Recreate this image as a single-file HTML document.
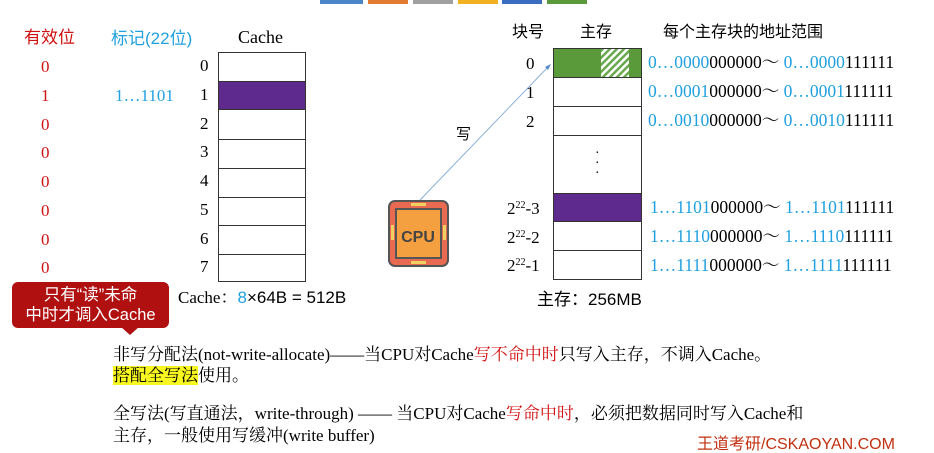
<!DOCTYPE html><html><head><meta charset="utf-8"><style>
body{margin:0;width:934px;height:451px;background:#fff;position:relative;overflow:hidden;font-family:"Liberation Serif","Noto Serif CJK SC",serif;}
.a{position:absolute;white-space:nowrap;line-height:1}
.r{color:#d01010}.b{color:#20a0e0}
.s{font-family:"Liberation Sans","Noto Sans CJK SC",sans-serif}
.row{position:absolute;left:0;width:100%;border-top:1px solid #333;box-sizing:border-box}
sup{font-size:10px;position:relative;top:-6px;vertical-align:baseline;line-height:0}
</style></head><body>
<div class="a" style="left:320px;top:0;width:43px;height:4px;background:#4a86c8"></div>
<div class="a" style="left:368px;top:0;width:40px;height:4px;background:#e07b30"></div>
<div class="a" style="left:413px;top:0;width:40px;height:4px;background:#a0a0a0"></div>
<div class="a" style="left:458px;top:0;width:40px;height:4px;background:#f0b020"></div>
<div class="a" style="left:502px;top:0;width:40px;height:4px;background:#3a6cc0"></div>
<div class="a" style="left:547px;top:0;width:40px;height:4px;background:#5a9a3a"></div>

<div class="a r s" style="left:24px;top:29px;font-size:17px">有效位</div>
<div class="a b s" style="left:111px;top:30px;font-size:17px">标记(22位)</div>
<div class="a" style="left:238px;top:28px;font-size:18px">Cache</div>
<div class="a r" style="left:41px;top:53px;font-size:17px;line-height:28.75px">0<br>1<br>0<br>0<br>0<br>0<br>0<br>0</div>
<div class="a b" style="left:115px;top:87px;font-size:17px">1…1101</div>
<div class="a" style="left:200px;top:52px;font-size:17px;line-height:28.75px">0<br>1<br>2<br>3<br>4<br>5<br>6<br>7</div>
<div class="a" style="left:218px;top:52px;width:88px;height:230px;border:1px solid #333;box-sizing:border-box">
<div class="row" style="top:28px;height:29px;background:#5e2a8e;border-bottom:1px solid #333"></div>
<div class="row" style="top:86px"></div><div class="row" style="top:115px"></div><div class="row" style="top:144px"></div><div class="row" style="top:172px"></div><div class="row" style="top:201px"></div>
</div>

<div class="a" style="left:12px;top:282px;width:157px;height:46px;background:#b01010;border-radius:6px;color:#fff;font-size:16.5px;text-align:center;line-height:20px;padding-top:3px;box-sizing:border-box;font-family:'Liberation Sans','Noto Sans CJK SC',sans-serif">只有“读”未命<br>中时才调入Cache</div>
<div class="a" style="left:120px;top:326px;width:0;height:0;border-left:10px solid transparent;border-right:10px solid transparent;border-top:9px solid #b01010"></div>
<div class="a" style="left:178px;top:289px;font-size:17px">Cache：<span class="b s">8</span><span class="s">×64B = 512B</span></div>

<svg class="a" style="left:0;top:0" width="934" height="451"><line x1="420" y1="200" x2="549" y2="66" stroke="#8ab0d8" stroke-width="1"/>
<path d="M551,64 L545,67 L548,70 Z" fill="#5a8ac8"/>
<defs><pattern id="h" width="5" height="5" patternUnits="userSpaceOnUse" patternTransform="rotate(45)"><rect width="5" height="5" fill="#fff"/><rect width="2.5" height="5" fill="#6aa84f"/></pattern></defs>
<rect x="389" y="201" width="59" height="65" rx="6" fill="#e86a50" stroke="#555" stroke-width="2"/>
<rect x="396" y="209" width="45" height="49" fill="#f5a040" stroke="#555" stroke-width="2"/>
<rect x="411" y="203" width="15" height="3" fill="#f0d060"/><rect x="411" y="261" width="15" height="3" fill="#f0d060"/>
<rect x="391" y="225" width="3" height="15" fill="#f0d060"/><rect x="443" y="225" width="3" height="15" fill="#f0d060"/>
<text x="418" y="242" font-family="Liberation Sans,sans-serif" font-weight="bold" font-size="16" fill="#444" text-anchor="middle">CPU</text>
</svg>
<div class="a s" style="left:456px;top:127px;font-size:15px">写</div>

<div class="a s" style="left:512px;top:25px;font-size:16px">块号</div>
<div class="a s" style="left:580px;top:25px;font-size:16px">主存</div>
<div class="a s" style="left:663px;top:25px;font-size:16px">每个主存块的地址范围</div>
<div class="a" style="left:553px;top:48px;width:89px;height:232px;border:1px solid #333;box-sizing:border-box">
<div class="row" style="top:0;height:29px;background:#5a9a3a;border-top:none;border-bottom:1px solid #333"></div>
<svg class="a" style="left:47px;top:0" width="28" height="28"><rect width="28" height="28" fill="url(#h)"/></svg>
<div class="row" style="top:57px"></div><div class="row" style="top:86px"></div>
<div class="row" style="top:144px;height:29px;background:#5e2a8e;border-bottom:1px solid #333"></div>
<div class="row" style="top:201px"></div>
<div class="a" style="left:41px;top:100px;font-size:14px;line-height:10px">·<br>·<br>·</div>
</div>
<div class="a" style="left:526px;top:49px;font-size:17px;line-height:29px">0<br>1<br>2</div>
<div class="a" style="left:507px;top:195px;font-size:17px;line-height:28.5px">2<sup>22</sup>-3<br>2<sup>22</sup>-2<br>2<sup>22</sup>-1</div>
<div class="a" style="left:648px;top:48px;font-size:17.5px;line-height:29px"><span class="b">0…0000</span>000000～ <span class="b">0…0000</span>111111<br><span class="b">0…0001</span>000000～ <span class="b">0…0001</span>111111<br><span class="b">0…0010</span>000000～ <span class="b">0…0010</span>111111</div>
<div class="a" style="left:650px;top:193px;font-size:17.5px;line-height:29px"><span class="b">1…1101</span>000000～ <span class="b">1…1101</span>111111<br><span class="b">1…1110</span>000000～ <span class="b">1…1110</span>111111<br><span class="b">1…1111</span>000000～ <span class="b">1…1111</span>111111</div>
<div class="a s" style="left:537px;top:291px;font-size:17px">主存：256MB</div>

<div class="a" style="left:113px;top:344px;font-size:17px;line-height:21px">非写分配法(not-write-allocate)——当CPU对Cache<span class="r">写不命中时</span>只写入主存，不调入Cache。<br><span style="background:#f8f820">搭配全写法</span>使用。</div>
<div class="a" style="left:113px;top:403px;font-size:17px;line-height:22px">全写法(写直通法，write-through) —— 当CPU对Cache<span class="r">写命中时</span>，必须把数据同时写入Cache和<br>主存，一般使用写缓冲(write buffer)</div>
<div class="a s" style="left:697px;top:437px;font-size:16px;color:#c03010">王道考研/CSKAOYAN.COM</div>
</body></html>
